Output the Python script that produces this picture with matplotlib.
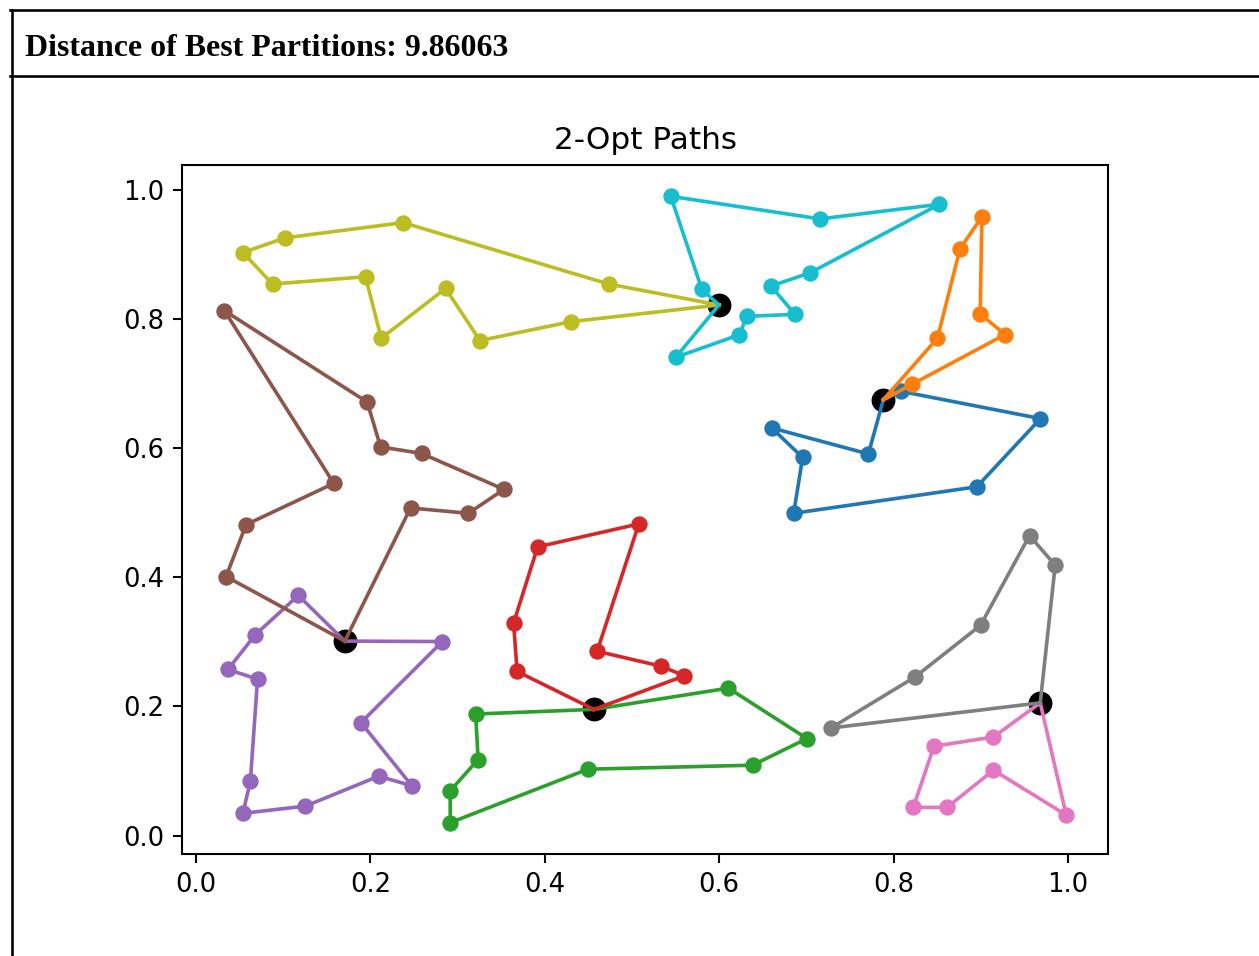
import matplotlib
matplotlib.use("Agg")
import matplotlib.pyplot as plt
from matplotlib.lines import Line2D

# ---- data ----
header_text = "Distance of Best Partitions: 9.86063"
title = "2-Opt Paths"

depot_x = [0.7883, 0.4564, 0.1706, 0.9682, 0.5997]
depot_y = [0.6750, 0.1955, 0.3012, 0.2056, 0.8216]

# each route: depot index, customer x list, customer y list (in visiting order)
route_depot = [0, 0, 1, 1, 2, 2, 3, 3, 4, 4]

blue_x = [0.8086, 0.9685, 0.8955, 0.6854, 0.6957, 0.6602, 0.7711]
blue_y = [0.6878, 0.6457, 0.5401, 0.4991, 0.5855, 0.6312, 0.5910]

orange_x = [0.8503, 0.8763, 0.9013, 0.8993, 0.9280, 0.8209]
orange_y = [0.7701, 0.9090, 0.9579, 0.8077, 0.7758, 0.6986]

green_x = [0.3207, 0.3235, 0.2915, 0.2915, 0.4494, 0.6383, 0.7007, 0.6106]
green_y = [0.1883, 0.1179, 0.0694, 0.0201, 0.1029, 0.1091, 0.1503, 0.2284]

red_x = [0.3682, 0.3642, 0.3918, 0.5078, 0.4600, 0.5335, 0.5602]
red_y = [0.2542, 0.3293, 0.4471, 0.4826, 0.2855, 0.2623, 0.2475]

purple_x = [0.1173, 0.0681, 0.0365, 0.0705, 0.0623, 0.0537, 0.1255, 0.2095, 0.2476, 0.1891, 0.2825]
purple_y = [0.3719, 0.3113, 0.2573, 0.2423, 0.0844, 0.0346, 0.0458, 0.0921, 0.0772, 0.1750, 0.3005]

brown_x = [0.0344, 0.0574, 0.1580, 0.0325, 0.1963, 0.2116, 0.2587, 0.3532, 0.3123, 0.2460]
brown_y = [0.4012, 0.4815, 0.5454, 0.8128, 0.6713, 0.6019, 0.5917, 0.5361, 0.4991, 0.5073]

pink_x = [0.9146, 0.8462, 0.8227, 0.8614, 0.9146, 0.9980]
pink_y = [0.1528, 0.1384, 0.0438, 0.0438, 0.1014, 0.0319]

gray_x = [0.9854, 0.9559, 0.8997, 0.8243, 0.7282]
gray_y = [0.4188, 0.4645, 0.3256, 0.2454, 0.1667]

olive_x = [0.4733, 0.2374, 0.1021, 0.0537, 0.0877, 0.1944, 0.2124, 0.2862, 0.3256, 0.4302]
olive_y = [0.8540, 0.9491, 0.9255, 0.9028, 0.8540, 0.8653, 0.7701, 0.8472, 0.7665, 0.7958]

cyan_x = [0.5801, 0.5445, 0.7156, 0.8526, 0.7045, 0.6594, 0.6869, 0.6318, 0.6230, 0.5503]
cyan_y = [0.8457, 0.9898, 0.9548, 0.9775, 0.8715, 0.8509, 0.8071, 0.8040, 0.7753, 0.7407]

routes_x = [blue_x, orange_x, green_x, red_x, purple_x, brown_x, pink_x, gray_x, olive_x, cyan_x]
routes_y = [blue_y, orange_y, green_y, red_y, purple_y, brown_y, pink_y, gray_y, olive_y, cyan_y]

# ---- figure ----
DPI = 186.7
W, H = 1259, 956
fig = plt.figure(figsize=(W / DPI, H / DPI), dpi=DPI)
fig.patch.set_facecolor("white")

# header box lines
lw = 1.0
fig.add_artist(Line2D([10 / W, 1.0], [1 - 10 / H, 1 - 10 / H], transform=fig.transFigure, color="black", lw=lw))
fig.add_artist(Line2D([11.5 / W, 11.5 / W], [0, 1 - 10 / H], transform=fig.transFigure, color="black", lw=lw))
fig.add_artist(Line2D([10 / W, 1.0], [1 - 76 / H, 1 - 76 / H], transform=fig.transFigure, color="black", lw=lw))
fig.text(25 / W, 1 - 56 / H, header_text, fontfamily="Liberation Serif", fontweight="bold",
         fontsize=12.3, va="baseline", ha="left")

ax = fig.add_axes([182.3 / W, 1 - 854 / H, (1108.3 - 182.3) / W, (854 - 165) / H])

ax.plot(depot_x, depot_y, "o", color="black", markersize=8.2, zorder=1)
for i, (rx, ry) in enumerate(zip(routes_x, routes_y)):
    d = route_depot[i]
    xs = [depot_x[d]] + rx + [depot_x[d]]
    ys = [depot_y[d]] + ry + [depot_y[d]]
    color = f"C{i}"
    ax.plot(xs, ys, "-", color=color, lw=1.4, zorder=2)
    ax.plot(rx, ry, "o", color=color, markersize=5.3, zorder=2)

ax.set_title(title)
ax.set_xticks([0.0, 0.2, 0.4, 0.6, 0.8, 1.0])
ax.set_yticks([0.0, 0.2, 0.4, 0.6, 0.8, 1.0])

fig.savefig("out.png", dpi=DPI)
